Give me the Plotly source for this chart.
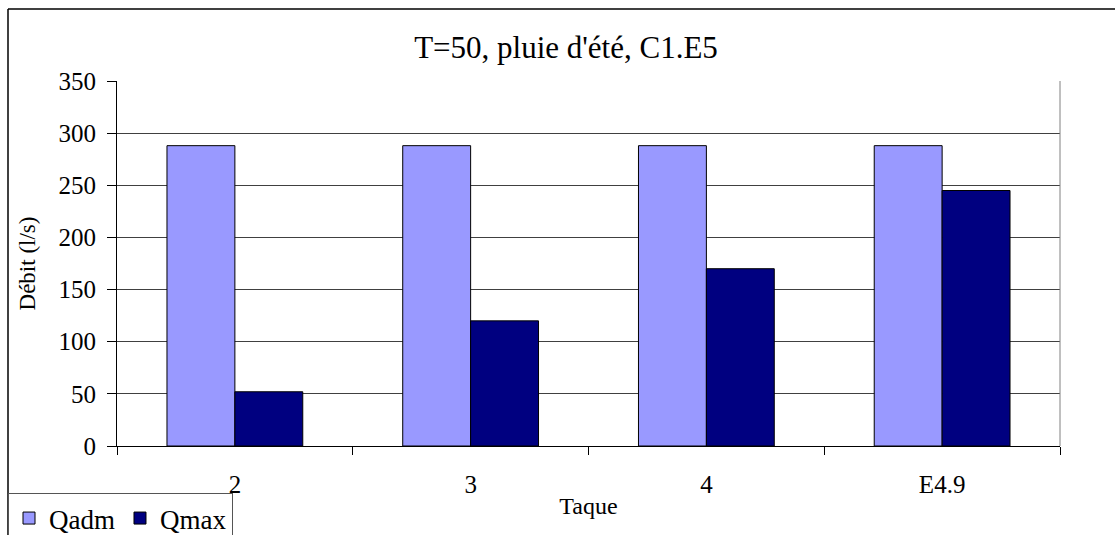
import plotly.graph_objects as go

categories = ["2", "3", "4", "E4.9"]
qadm = [288, 288, 288, 288]
qmax = [52, 120, 170, 245]
y_ticks = [0, 50, 100, 150, 200, 250, 300, 350]

W, H = 1115, 535
L, R, T, B = 117, 1060, 81, 446
pw, ph = R - L, B - T

def px(x):
    return (x - L) / pw

def py(y):
    return (B - y) / ph

FONT = "Liberation Serif, Times New Roman, serif"

fig = go.Figure()
fig.add_trace(go.Bar(name="Qadm", x=categories, y=qadm,
                     marker=dict(color="#9999FF", line=dict(color="black", width=1))))
fig.add_trace(go.Bar(name="Qmax", x=categories, y=qmax,
                     marker=dict(color="#000080", line=dict(color="black", width=1))))

fig.update_layout(
    width=W, height=H,
    margin=dict(l=L, r=W - R, t=T, b=H - B, pad=0, autoexpand=False),
    paper_bgcolor="white", plot_bgcolor="white",
    barmode="group", bargap=0.424, bargroupgap=0,
    font=dict(family=FONT, color="black", size=25),
    title=dict(text="T=50, pluie d'été, C1.E5", x=566 / W, xref="container",
               y=1 - 47 / H, yref="container", yanchor="middle", xanchor="center",
               font=dict(family=FONT, size=31, color="black")),
    legend=dict(orientation="h", x=px(8), y=py(493), xanchor="left", yanchor="top",
                bordercolor="#555", borderwidth=1, bgcolor="white",
                font=dict(family=FONT, size=27, color="black"),
                itemwidth=30, traceorder="normal", tracegroupgap=0),
    xaxis=dict(type="category", tickson="boundaries", ticks="outside", ticklen=8,
               tickcolor="black", showline=True, linecolor="black", linewidth=1,
               showgrid=False, ticklabelstandoff=16, automargin=False,
               tickfont=dict(family=FONT, size=25, color="black"),
               title=dict(text="Taque", standoff=0, font=dict(family=FONT, size=24, color="black"))),
    yaxis=dict(range=[0, 350], tickvals=y_ticks, ticks="outside", ticklen=9,
               tickcolor="black", showline=True, linecolor="black", linewidth=1,
               showgrid=True, gridcolor="#404040", gridwidth=1, zeroline=False,
               automargin=False, ticklabelstandoff=6,
               tickfont=dict(family=FONT, size=25, color="black"),
               title=dict(text="Débit (l/s)", standoff=16, font=dict(family=FONT, size=23, color="black"))),
)

# outer chart border (top and left visible)
fig.add_shape(type="line", xref="paper", yref="paper", x0=px(8), x1=px(1115), y0=py(9), y1=py(9),
              line=dict(color="black", width=1.5))
fig.add_shape(type="line", xref="paper", yref="paper", x0=px(8), x1=px(8), y0=py(9), y1=py(535),
              line=dict(color="black", width=1.5))
# plot area right border
fig.add_shape(type="line", xref="paper", yref="paper", x0=1, x1=1, y0=0, y1=1,
              line=dict(color="#808080", width=1))

fig.write_html("out.html", config={"displayModeBar": False},
               post_script="document.body.style.margin='0';document.body.style.overflow='hidden';")
